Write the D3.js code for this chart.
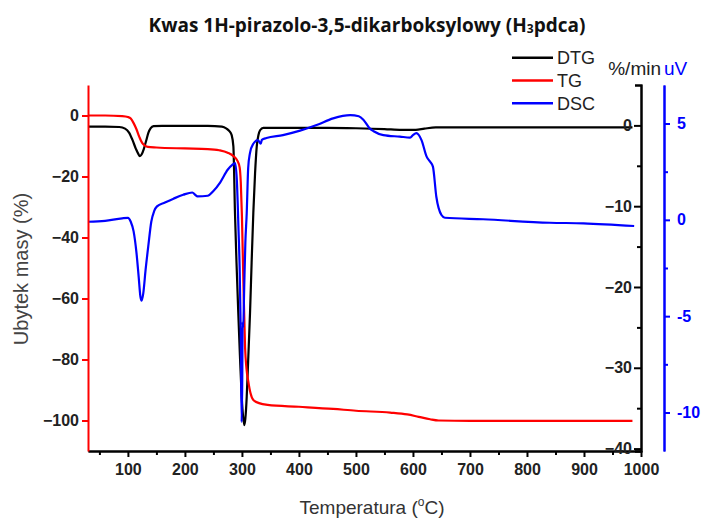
<!DOCTYPE html>
<html>
<head>
<meta charset="utf-8">
<script src="https://cdn.jsdelivr.net/npm/d3@7"></script>
<style>
  body { margin: 0; background: #fff; }
  svg { display: block; }
</style>
</head>
<body>
<svg id="chart" width="702" height="519"></svg>
<script>
// Thermal analysis of 1H-pyrazole-3,5-dicarboxylic acid: TG, DTG and DSC traces.

const xTicks = [100, 200, 300, 400, 500, 600, 700, 800, 900, 1000];
const xMinorTicks = [50, 150, 250, 350, 450, 550, 650, 750, 850, 950];
const tgTicks = [0, -20, -40, -60, -80, -100];
const dtgTicks = [0, -10, -20, -30, -40];
const dtgMinorTicks = [-5, -15, -25, -35];
const dscTicks = [5, 0, -5, -10];
const dscMinorTicks = [2.5, -2.5, -7.5];
const seriesNames = ["DTG", "TG", "DSC"];

// [temperature °C, mass change %]
const tgData = [
  [30, 0], [60, 0], [90, -0.2], [100, -0.5], [105, -1], [110, -2.5], [115, -4.5],
  [120, -7], [125, -9], [130, -9.9], [135, -10.3], [150, -10.5], [200, -10.8],
  [240, -11], [260, -11.4], [275, -12.2], [285, -13.3], [292, -14.8], [296, -17],
  [298, -22], [300, -33], [302.5, -54], [305.5, -76], [308, -83], [311, -87],
  [315, -91], [320, -93.3], [330, -94.3], [345, -94.9], [400, -95.5], [460, -96.2],
  [500, -96.8], [560, -97.4], [590, -98], [610, -98.8], [630, -99.6], [645, -100],
  [700, -100.1], [800, -100.1], [900, -100.1], [985, -100.1]
];

// [temperature °C, mass loss rate %/min]
const dtgData = [
  [30, -0.15], [60, -0.15], [85, -0.2], [95, -0.4], [102, -0.9], [108, -1.8],
  [114, -2.9], [118, -3.5], [121, -3.8], [124, -3.6], [128, -2.9], [132, -1.9],
  [136, -0.9], [140, -0.35], [145, -0.1], [160, -0.05], [200, -0.05], [240, -0.05],
  [265, -0.15], [273, -0.4], [278, -0.7], [282, -1.2], [285, -2.6], [287.8, -10.8],
  [290.5, -17], [293.6, -23.2], [296.5, -28.5], [299.6, -33.6], [302, -36],
  [304.2, -37.1], [306, -36.3], [308.4, -33.6], [311, -29], [314.2, -23.2],
  [317, -17], [320, -10.8], [323, -6], [326, -2.6], [329, -1.2], [331.8, -0.6],
  [337.5, -0.3], [400, -0.3], [450, -0.3], [500, -0.35], [550, -0.45], [580, -0.55],
  [605, -0.55], [620, -0.4], [640, -0.25], [700, -0.25], [800, -0.25], [900, -0.25],
  [985, -0.25]
];

// [temperature °C, heat flow uV]
const dscData = [
  [30, -0.1], [60, -0.05], [90, 0.08], [100, 0.1], [105, -0.1], [110, -0.6],
  [115, -1.7], [119, -3.0], [122, -4.0], [124, -4.2], [127, -3.8], [131, -2.6],
  [136, -1.3], [141, -0.1], [146, 0.45], [151, 0.7], [165, 0.9], [180, 1.1],
  [197, 1.3], [213, 1.42], [218, 1.3], [222, 1.22], [240, 1.25], [250, 1.5],
  [262, 1.95], [275, 2.6], [283, 2.85], [288, 2.95], [291, 2.1], [294, -0.5],
  [296, -2.5], [298, -6], [299.5, -10.5], [300.5, -8.5], [301.3, -5.3],
  [302.3, -5.6], [304, -3.5], [306, -1.2], [308.4, 0.34], [311, 2.7], [314, 3.45],
  [320, 3.95], [328, 4.14], [333, 3.95], [335, 4.15], [343, 4.25], [372, 4.4],
  [402, 4.63], [431, 4.92], [460, 5.27], [490, 5.44], [505, 5.38], [513, 5.2],
  [524, 4.75], [531, 4.6], [548, 4.4], [577, 4.32], [595, 4.27], [600, 4.4],
  [606, 4.5], [615, 4.14], [624, 3.28], [630, 3.02], [635, 2.76], [641, 1.2],
  [650, 0.25], [656, 0.11], [723, 0.03], [840, -0.15], [899, -0.18], [988, -0.32]
];

const svg = d3.select("#chart");
const plot = { left: 88, right: 641, top: 85, bottom: 451 };
const dscAxisX = 664;

const x = d3.scaleLinear().domain([30, 1000]).range([plot.left, plot.right]);
const yTG = d3.scaleLinear().domain([-110, 10]).range([plot.bottom, plot.top]);
const yDTG = d3.scaleLinear().domain([-40.3, 5]).range([plot.bottom, plot.top]);
const yDSC = d3.scaleLinear().domain([-12, 7]).range([plot.bottom, plot.top]);

const colors = { DTG: "#000000", TG: "#ff0000", DSC: "#0000ff" };
const tickFont = "'Liberation Sans', Arial, sans-serif";
const intFormat = d3.format("d");
const hyphenFormat = v => String(v);

function styleAxis(g, color, textColor) {
  g.selectAll("path.domain").attr("stroke", color).attr("stroke-width", 2);
  g.selectAll(".tick line").attr("stroke", color).attr("stroke-width", 2);
  g.selectAll(".tick text")
    .attr("fill", textColor)
    .style("font-family", tickFont)
    .style("font-size", "16px")
    .style("font-weight", "bold");
}

// Curves
const lineOf = (yScale) => d3.line()
  .x(d => x(d[0]))
  .y(d => yScale(d[1]))
  .curve(d3.curveMonotoneX);

const curves = svg.append("g").attr("fill", "none")
  .attr("stroke-width", 2.2).attr("stroke-linejoin", "round");
curves.append("path").datum(dtgData).attr("d", lineOf(yDTG)).attr("stroke", colors.DTG);
curves.append("path").datum(tgData).attr("d", lineOf(yTG)).attr("stroke", colors.TG);
curves.append("path").datum(dscData).attr("d", lineOf(yDSC)).attr("stroke", colors.DSC);

// Bottom axis with minor ticks
const xMinor = svg.append("g").attr("transform", `translate(0,${plot.bottom})`)
  .call(d3.axisBottom(x).tickValues(xMinorTicks).tickSize(4).tickSizeOuter(0).tickFormat(""));
styleAxis(xMinor, "#000", "#222");
const xAxis = svg.append("g").attr("transform", `translate(0,${plot.bottom})`)
  .call(d3.axisBottom(x).tickValues(xTicks).tickSize(6).tickSizeOuter(0)
    .tickPadding(7).tickFormat(intFormat));
styleAxis(xAxis, "#000", "#222");

// Left TG axis (red)
const tgAxis = svg.append("g").attr("transform", `translate(${plot.left},0)`)
  .call(d3.axisLeft(yTG).tickValues(tgTicks).tickSize(6).tickSizeOuter(0)
    .tickPadding(3).tickFormat(intFormat));
styleAxis(tgAxis, colors.TG, "#222");

// Right DTG axis (black), ticks pointing into the plot
const dtgMinor = svg.append("g").attr("transform", `translate(${plot.right},0)`)
  .call(d3.axisLeft(yDTG).tickValues(dtgMinorTicks).tickSize(4).tickSizeOuter(6).tickFormat(""));
styleAxis(dtgMinor, colors.DTG, "#222");
const dtgAxis = svg.append("g").attr("transform", `translate(${plot.right},0)`)
  .call(d3.axisLeft(yDTG).tickValues(dtgTicks).tickSize(7).tickSizeOuter(6)
    .tickPadding(2).tickFormat(intFormat));
styleAxis(dtgAxis, colors.DTG, "#222");

// Outer DSC axis (blue)
const dscMinor = svg.append("g").attr("transform", `translate(${dscAxisX},0)`)
  .call(d3.axisRight(yDSC).tickValues(dscMinorTicks).tickSize(4).tickSizeOuter(0).tickFormat(""));
styleAxis(dscMinor, colors.DSC, colors.DSC);
const dscAxis = svg.append("g").attr("transform", `translate(${dscAxisX},0)`)
  .call(d3.axisRight(yDSC).tickValues(dscTicks).tickSize(6).tickSizeOuter(0)
    .tickPadding(7).tickFormat(hyphenFormat));
styleAxis(dscAxis, colors.DSC, colors.DSC);

// Title
const title = svg.append("text")
  .attr("x", 367).attr("y", 32)
  .attr("text-anchor", "middle")
  .style("font-family", "'Open Sans', sans-serif")
  .style("font-weight", "bold")
  .style("font-size", "19px")
  .attr("fill", "#111");
title.append("tspan").text("Kwas 1H-pirazolo-3,5-dikarboksylowy (H");
title.append("tspan").text("3").style("font-size", "12px").attr("dy", 1);
title.append("tspan").text("pdca)").attr("dy", -1);

// Axis titles
svg.append("text")
  .attr("transform", `translate(28,269) rotate(-90)`)
  .attr("text-anchor", "middle")
  .style("font-family", tickFont)
  .style("font-size", "20px")
  .attr("fill", "#444")
  .text("Ubytek masy (%)");

const xLabel = svg.append("text")
  .attr("x", 372).attr("y", 514)
  .attr("text-anchor", "middle")
  .style("font-family", tickFont)
  .style("font-size", "19px")
  .attr("fill", "#333");
xLabel.append("tspan").text("Temperatura (");
xLabel.append("tspan").text("o").style("font-size", "12px").attr("dy", -8);
xLabel.append("tspan").text("C)").attr("dy", 8);

svg.append("text")
  .attr("x", 661).attr("y", 75)
  .attr("text-anchor", "end")
  .style("font-family", tickFont)
  .style("font-size", "19px")
  .attr("fill", "#222")
  .text("%/min");
svg.append("text")
  .attr("x", 664).attr("y", 75)
  .style("font-family", tickFont)
  .style("font-size", "19px")
  .attr("fill", colors.DSC)
  .text("uV");

// Legend
const legend = svg.append("g");
seriesNames.forEach((name, i) => {
  const y = 57.7 + i * 22.8;
  legend.append("line")
    .attr("x1", 512).attr("x2", 553).attr("y1", y).attr("y2", y)
    .attr("stroke", colors[name]).attr("stroke-width", 2.5);
  legend.append("text")
    .attr("x", 557).attr("y", y + 6.5)
    .style("font-family", tickFont)
    .style("font-size", "18px")
    .attr("fill", "#222")
    .text(name);
});
</script>
</body>
</html>
